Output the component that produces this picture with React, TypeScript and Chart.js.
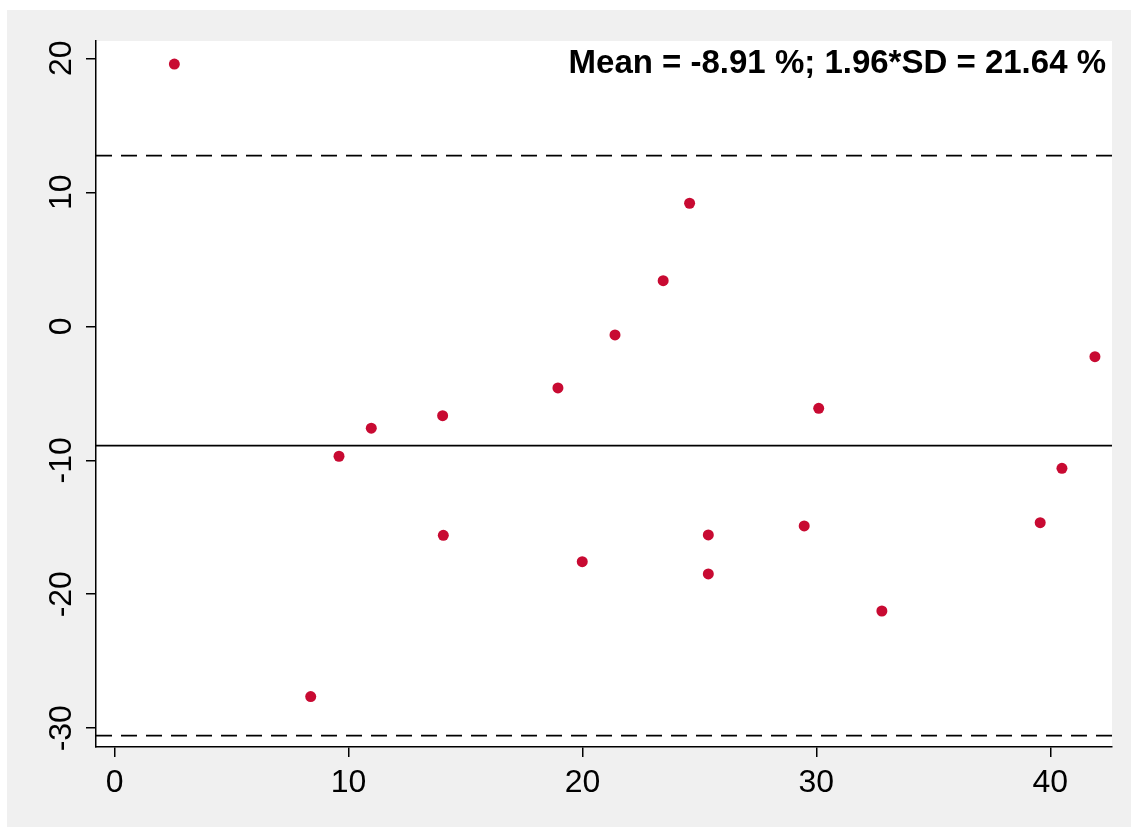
import React, { useEffect, useRef } from "react";
import { Chart, registerables } from "chart.js";

Chart.register(...registerables);

const xValues = [2.55, 8.38, 9.59, 10.97, 14.02, 14.05, 18.95, 19.99, 21.39, 23.45, 24.58, 25.38, 25.38, 29.48, 30.1, 32.8, 39.57, 40.5, 41.91];
const yValues = [19.57, -27.64, -9.7, -7.61, -6.67, -15.6, -4.6, -17.57, -0.65, 3.4, 9.18, -15.57, -18.48, -14.9, -6.12, -21.25, -14.66, -10.6, -2.27];

const meanDiff = -8.91;
const limitHalfWidth = 21.64; // 1.96*SD

const xTicks = [0, 10, 20, 30, 40];
const yTicks = [20, 10, 0, -10, -20, -30];

const xMin = -0.8;
const xMax = 42.64;
const yMin = -31.4;
const yMax = 21.29;

const titleText = "Mean = -8.91 %; 1.96*SD = 21.64 %";

const FONT = "'Liberation Sans', Arial, sans-serif";

export default function App() {
  const ref = useRef<HTMLCanvasElement>(null);

  useEffect(() => {
    document.body.style.margin = "0";
    const canvas = ref.current;
    if (!canvas) return;

    const upper = meanDiff + limitHalfWidth;
    const lower = meanDiff - limitHalfWidth;

    const bgPlugin = {
      id: "bgAndText",
      beforeDraw(chart: any) {
        const { ctx, chartArea } = chart;
        ctx.save();
        ctx.fillStyle = "#ffffff";
        ctx.fillRect(0, 0, chart.width, chart.height);
        ctx.fillStyle = "#f0f0f0";
        ctx.fillRect(7, 10, chart.width - 7, chart.height - 10);
        ctx.fillStyle = "#ffffff";
        ctx.fillRect(chartArea.left, chartArea.top, chartArea.right - chartArea.left, chartArea.bottom - chartArea.top);
        ctx.restore();
      },
      afterDraw(chart: any) {
        const { ctx } = chart;
        const ys = chart.scales.y;
        ctx.save();
        ctx.fillStyle = "#000000";
        ctx.font = `32px ${FONT}`;
        ctx.textAlign = "center";
        ctx.textBaseline = "alphabetic";
        ys.ticks.forEach((t: any) => {
          const py = ys.getPixelForValue(t.value);
          ctx.save();
          ctx.translate(ys.right - 25, py);
          ctx.rotate(-Math.PI / 2);
          ctx.fillText(String(t.value), 0, 0);
          ctx.restore();
        });
        ctx.font = `bold 33px ${FONT}`;
        ctx.textAlign = "right";
        ctx.fillText(titleText, chart.chartArea.right - 6, 73);
        ctx.restore();
      },
    };

    const lineDs = (v: number, dash: number[]) => ({
      type: "line" as const,
      data: [
        { x: xMin, y: v },
        { x: xMax, y: v },
      ],
      borderColor: "#000000",
      borderWidth: 1.8,
      borderDash: dash,
      pointRadius: 0,
      showLine: true,
      fill: false,
      order: 1,
    });

    const chart = new Chart(canvas, {
      type: "scatter",
      data: {
        datasets: [
          {
            data: xValues.map((x, i) => ({ x, y: yValues[i] })),
            backgroundColor: "#c80a32",
            borderColor: "#c80a32",
            pointRadius: 5.5,
            pointHoverRadius: 5.5,
            borderWidth: 0,
            order: 0,
          },
          lineDs(upper, [16, 9]),
          lineDs(meanDiff, []),
          lineDs(lower, [16, 9]),
        ] as any,
      },
      plugins: [bgPlugin],
      options: {
        responsive: false,
        animation: false,
        events: [],
        layout: { padding: { top: 41, right: 19, left: 0, bottom: 0 } },
        plugins: {
          legend: { display: false },
          tooltip: { enabled: false },
          title: { display: false },
        },
        scales: {
          x: {
            type: "linear",
            min: xMin,
            max: xMax,
            afterBuildTicks: (s: any) => {
              s.ticks = xTicks.map((v) => ({ value: v }));
            },
            afterFit: (s: any) => {
              s.height = 80;
            },
            grid: { drawOnChartArea: false, drawTicks: true, tickLength: 10, color: "#000000", lineWidth: 1.5 },
            border: { display: true, color: "#000000", width: 1.5 },
            ticks: {
              color: "#000000",
              font: { family: FONT, size: 32 },
              padding: 7,
              maxRotation: 0,
              autoSkip: false,
            },
          },
          y: {
            type: "linear",
            min: yMin,
            max: yMax,
            afterBuildTicks: (s: any) => {
              s.ticks = yTicks.map((v) => ({ value: v }));
            },
            afterFit: (s: any) => {
              s.width = 96;
            },
            grid: { drawOnChartArea: false, drawTicks: true, tickLength: 10, color: "#000000", lineWidth: 1.5 },
            border: { display: true, color: "#000000", width: 1.5 },
            ticks: { display: false },
          },
        },
      } as any,
    });

    return () => {
      chart.destroy();
    };
  }, []);

  return (
    <div style={{ width: 1131, height: 827 }}>
      <canvas ref={ref} width={1131} height={827} style={{ display: "block" }} />
    </div>
  );
}
